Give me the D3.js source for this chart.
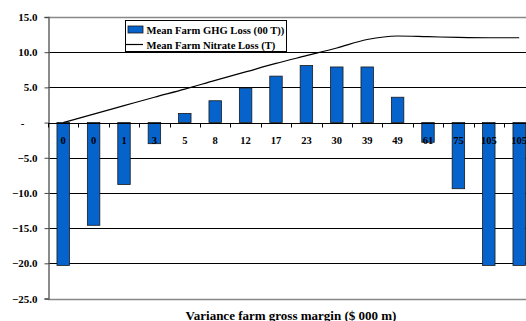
<!DOCTYPE html>
<html>
<head>
<meta charset="utf-8">
<script src="https://cdn.jsdelivr.net/npm/d3@7/dist/d3.min.js"></script>
<style>
  html, body { margin: 0; padding: 0; background: #fff; }
  svg { display: block; }
  text { font-family: "Liberation Serif", "DejaVu Serif", serif; font-weight: bold; fill: #000; }
</style>
</head>
<body>
<svg id="chart" width="526" height="321"></svg>
<script>
// Category labels (variance of farm gross margin, $ 000 m)
const categories = ["0", "0", "1", "3", "5", "8", "12", "17", "23", "30", "39", "49", "61", "75", "105", "105"];
// Mean farm GHG loss (00 T)
const ghgLoss = [-20.3, -14.6, -8.8, -3.0, 1.3, 3.1, 4.9, 6.6, 8.1, 7.9, 7.9, 3.6, -2.8, -9.4, -20.3, -20.3];
// Mean farm nitrate loss (T)
const nitrateLoss = [0.0, 1.2, 2.4, 3.6, 4.75, 6.0, 7.2, 8.4, 9.5, 10.6, 11.8, 12.3, 12.2, 12.1, 12.05, 12.05];
// Value axis ticks
const yTicks = [15, 10, 5, 0, -5, -10, -15, -20, -25];

const seriesNames = ["Mean Farm GHG Loss (00 T))", "Mean Farm Nitrate Loss (T)"];
const xTitle = "Variance farm gross margin ($ 000 m)";

const FONT = "'Liberation Serif', 'DejaVu Serif', serif";
const svg = d3.select("#chart");

const plot = { left: 48, top: 17, bottom: 298.5, band: 30.4 };
const plotRight = plot.left + plot.band * categories.length;

const x = d3.scaleBand()
  .domain(d3.range(categories.length))
  .range([plot.left, plotRight])
  .paddingInner(0).paddingOuter(0);

const y = d3.scaleLinear()
  .domain([-25, 15])
  .range([plot.bottom, plot.top]);

const barW = x.bandwidth() * 0.41;

// Horizontal gridlines
svg.append("g")
  .selectAll("line")
  .data(yTicks.filter(v => v !== 0))
  .join("line")
  .attr("x1", plot.left).attr("x2", 526)
  .attr("y1", d => Math.round(y(d)) + 0.5).attr("y2", d => Math.round(y(d)) + 0.5)
  .attr("stroke", d => (d === 15 || d === -25) ? "#888" : "#000")
  .attr("stroke-width", d => (d === 15 || d === -25) ? 1.5 : 1);

// Value axis
const yAxis = d3.axisLeft(y)
  .tickValues(yTicks)
  .tickSize(4)
  .tickFormat(d => d === 0 ? "-" : d3.format(".1f")(d));

const yg = svg.append("g")
  .attr("transform", `translate(${plot.left + 0.5},0)`)
  .call(yAxis)
  .attr("font-family", FONT);
yg.select(".domain").attr("stroke", "#666").attr("stroke-width", 1.5);
yg.selectAll(".tick line").attr("stroke", "#444");
yg.selectAll(".tick text")
  .attr("x", -11)
  .attr("dx", d => d === 0 ? -13 : 0)
  .style("font-size", "11px")
  .style("font-family", FONT)
  .style("font-weight", "bold");

// Bars
svg.append("g")
  .selectAll("rect")
  .data(ghgLoss)
  .join("rect")
  .attr("x", (d, i) => x(i) + x.bandwidth() / 2 - barW / 2)
  .attr("width", barW)
  .attr("y", d => y(Math.max(0, d)))
  .attr("height", d => Math.abs(y(d) - y(0)))
  .attr("fill", "#0563CB")
  .attr("stroke", "#1a1a1a")
  .attr("stroke-width", 0.8);

// Category axis along zero
const y0 = Math.round(y(0)) + 0.5;
svg.append("line")
  .attr("x1", plot.left).attr("x2", 526)
  .attr("y1", y0).attr("y2", y0)
  .attr("stroke", "#000").attr("stroke-width", 1);

svg.append("g")
  .selectAll("line")
  .data(d3.range(categories.length + 1))
  .join("line")
  .attr("x1", i => Math.round(plot.left + i * x.step()) + 0.5)
  .attr("x2", i => Math.round(plot.left + i * x.step()) + 0.5)
  .attr("y1", y0).attr("y2", y0 + 4)
  .attr("stroke", "#000");

svg.append("g")
  .selectAll("text")
  .data(categories)
  .join("text")
  .attr("x", (d, i) => x(i) + x.bandwidth() / 2)
  .attr("y", y0 + 20)
  .attr("text-anchor", "middle")
  .style("font-family", FONT)
  .style("font-size", "10.5px")
  .text(d => d);

// Nitrate line
const line = d3.line()
  .x((d, i) => x(i) + x.bandwidth() / 2)
  .y(d => y(d))
  .curve(d3.curveMonotoneX);

svg.append("path")
  .datum(nitrateLoss)
  .attr("d", line)
  .attr("fill", "none")
  .attr("stroke", "#000")
  .attr("stroke-width", 1.2);

// Legend
const lg = svg.append("g").attr("transform", "translate(125,20)");
lg.append("rect")
  .attr("x", 0.5).attr("y", 0.5).attr("width", 161).attr("height", 31)
  .attr("fill", "#fff").attr("stroke", "#000").attr("stroke-width", 1);
lg.append("rect")
  .attr("x", 3).attr("y", 6).attr("width", 15).attr("height", 7)
  .attr("fill", "#0563CB").attr("stroke", "#1a1a1a").attr("stroke-width", 0.8);
lg.append("line")
  .attr("x1", 1).attr("x2", 18).attr("y1", 24.5).attr("y2", 24.5)
  .attr("stroke", "#000").attr("stroke-width", 1.2);
lg.selectAll("text.lbl")
  .data(seriesNames)
  .join("text")
  .attr("class", "lbl")
  .attr("x", 21.5)
  .attr("y", (d, i) => 13.5 + i * 15)
  .style("font-family", FONT)
  .style("font-size", "10.6px")
  .text(d => d);

// Axis title
svg.append("text")
  .attr("x", 291)
  .attr("y", 320)
  .attr("text-anchor", "middle")
  .style("font-family", FONT)
  .style("font-size", "13px")
  .text(xTitle);
</script>
</body>
</html>
